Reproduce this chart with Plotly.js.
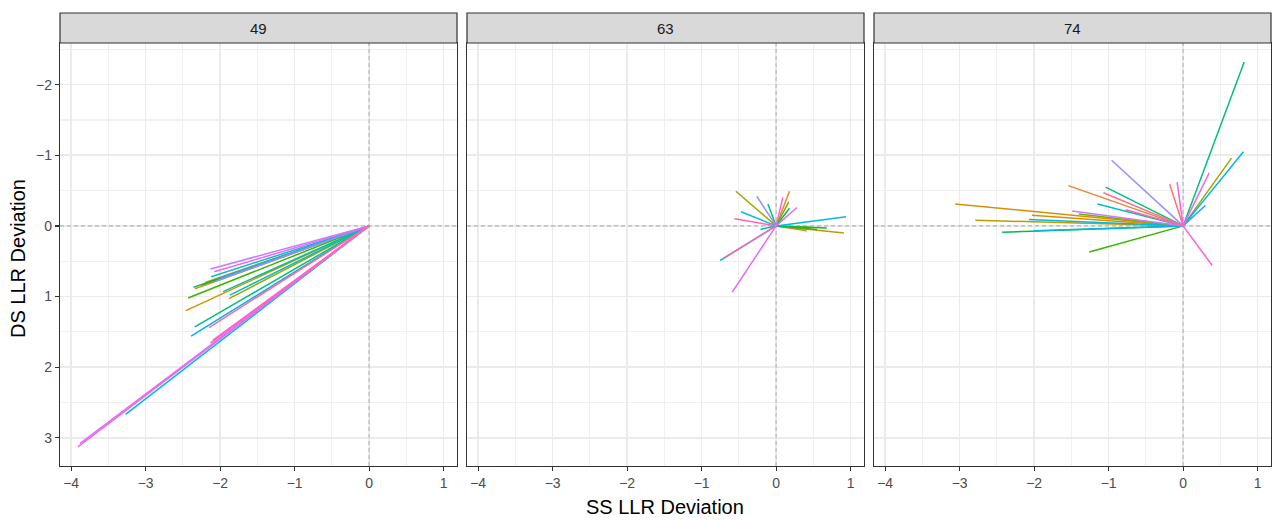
<!DOCTYPE html>
<html>
<head>
<meta charset="utf-8">
<script src="https://cdn.plot.ly/plotly-3.0.1.min.js"></script>
<style>
html,body{margin:0;padding:0;background:#fff;}
#chart{width:1273px;height:520px;}
</style>
</head>
<body>
<div id="chart"></div>
<script>
// ---- data ----
var panels = ["49", "63", "74"];
var palette = ["#F8766D","#EA8331","#D89000","#C09B00","#A3A500","#7CAE00","#39B600","#00BB4E","#00BF7D","#00C1A3",
               "#00BFC4","#00BAE0","#00B0F6","#35A2FF","#9590FF","#C77CFF","#E76BF3","#FA62DB","#FF62BC","#FF6C91"];

// panel 49: SS and DS deviation end points, colour group
var ss49  = [-2.27, -2.34, -2.46, -2.20, -1.88, -2.25, -2.43, -2.36, -2.34, -1.96, -1.87, -2.12, -2.39, -2.00, -2.05, -2.13, -3.27, -2.08, -3.91, -3.88, -2.10, -2.13, -2.15];
var ds49  = [ 0.86,  0.89,  1.20,  0.80,  1.03,  0.84,  1.02,  0.87,  1.43,  0.93,  0.98,  0.72,  1.56,  0.74,  0.78,  0.61,  2.67,  0.65,  3.13,  3.08,  1.62,  1.66,  1.44];
var grp49 = [0, 1, 2, 3, 4, 5, 6, 7, 8, 9, 10, 11, 12, 13, 14, 15, 11, 16, 16, 16, 17, 18, 19];

// panel 63
var ss63  = [ 0.41,  0.18,  0.45,  0.91, -0.54,  0.17,  0.55,  0.18,  0.68, -0.11, -0.21,  0.94, -0.47, -0.75, -0.26,  0.28, -0.59,  0.09, -0.56, -0.71];
var ds63  = [ 0.07, -0.49,  0.02,  0.10, -0.49, -0.34,  0.05, -0.25,  0.03, -0.31,  0.05, -0.13, -0.20,  0.49, -0.42, -0.26,  0.94, -0.40, -0.10,  0.46];
var grp63 = [1, 1, 2, 3, 4, 5, 6, 7, 7, 8, 9, 11, 11, 11, 14, 16, 16, 17, 18, 18];

// panel 74
var ss74  = [-0.18, -1.54, -3.06, -2.03, -2.79,  0.65, -1.40, -1.26, -2.43,  0.82, -1.04, -1.15, -2.07, -2.00,  0.81,  0.30, -0.96, -1.49,  0.35,  0.39, -0.08, -0.77, -1.07];
var ds74  = [-0.59, -0.57, -0.31, -0.15, -0.08, -0.96, -0.17,  0.37,  0.09, -2.32, -0.55, -0.31, -0.09,  0.07, -1.05, -0.29, -0.93, -0.21, -0.75,  0.56, -0.62, -0.23, -0.47];
var grp74 = [0, 1, 2, 2, 3, 4, 5, 6, 7, 8, 8, 10, 11, 11, 12, 13, 14, 15, 16, 17, 17, 18, 19];

var xTicks = [-4, -3, -2, -1, 0, 1];
var yTicks = [-2, -1, 0, 1, 2, 3];
var refX = 0, refY = 0;           // dashed reference lines
var xRange = [-4.15, 1.18];
var yRange = [3.40, -2.59];       // reversed axis

// ---- build ----
var W = 1213, H = 423;
var domains = [[0, 397/W], [407/W, 804/W], [814/W, 1211/W]];
var sets = [[ss49, ds49, grp49], [ss63, ds63, grp63], [ss74, ds74, grp74]];
var traces = [];
var dashStyle = {color: '#B5B5B5', width: 1.1, dash: '4px,3px'};
sets.forEach(function(s, p) {
  var xa = p === 0 ? 'x' : 'x' + (p + 1);
  var ya = p === 0 ? 'y' : 'y' + (p + 1);
  traces.push({type: 'scatter', mode: 'lines', x: [refX, refX], y: yRange, xaxis: xa, yaxis: ya,
               line: dashStyle, hoverinfo: 'skip', showlegend: false, cliponaxis: true});
  traces.push({type: 'scatter', mode: 'lines', x: xRange, y: [refY, refY], xaxis: xa, yaxis: ya,
               line: dashStyle, hoverinfo: 'skip', showlegend: false, cliponaxis: true});
  for (var i = 0; i < s[0].length; i++) {
    traces.push({
      type: 'scatter', mode: 'lines',
      x: [0, s[0][i]], y: [0, s[1][i]],
      xaxis: xa, yaxis: ya,
      line: {color: palette[s[2][i]], width: 1.5},
      hoverinfo: 'skip', showlegend: false
    });
  }
});

var tickFont = {family: 'Liberation Sans, Arial, sans-serif', size: 14, color: '#4D4D4D'};
function fmt(v){return v < 0 ? '\u2212' + (-v) : String(v);}
function xAxis(p) {
  return {
    domain: domains[p], range: xRange.slice(), anchor: p === 0 ? 'y' : 'y' + (p + 1),
    tickvals: xTicks, ticktext: xTicks.map(fmt),
    ticks: 'outside', ticklen: 4, tickcolor: '#333333', tickwidth: 1.2,
    showgrid: true, gridcolor: '#EBEBEB', gridwidth: 1.6,
    minor: {dtick: 0.5, tick0: 0, showgrid: true, gridcolor: '#F0F0F0', gridwidth: 1.1, ticks: ''},
    zeroline: false, showline: true, mirror: true, linecolor: '#333333', linewidth: 1.2,
    tickfont: tickFont, fixedrange: true
  };
}
function yAxis(p) {
  return {
    domain: [0, 1], range: yRange.slice(), anchor: p === 0 ? 'x' : 'x' + (p + 1),
    tickvals: yTicks, ticktext: yTicks.map(fmt),
    ticks: p === 0 ? 'outside' : '', ticklen: 4, tickcolor: '#333333', tickwidth: 1.2,
    showticklabels: p === 0,
    showgrid: true, gridcolor: '#EBEBEB', gridwidth: 1.6,
    minor: {dtick: 0.5, tick0: 0, showgrid: true, gridcolor: '#F0F0F0', gridwidth: 1.1, ticks: ''},
    zeroline: false, showline: true, mirror: true, linecolor: '#333333', linewidth: 1.2,
    tickfont: tickFont, fixedrange: true
  };
}

var shapes = [], annotations = [];
panels.forEach(function(name, p) {
  shapes.push({type: 'rect', xref: 'paper', yref: 'paper', x0: domains[p][0], x1: domains[p][1],
               y0: 1, y1: 1 + 30/H, fillcolor: '#D9D9D9', line: {color: '#333333', width: 1.2}});
  annotations.push({text: name, xref: 'paper', yref: 'paper', x: (domains[p][0] + domains[p][1]) / 2,
                    y: 1 + 15/H, xanchor: 'center', yanchor: 'middle', showarrow: false,
                    font: {family: 'Liberation Sans, Arial, sans-serif', size: 15, color: '#1A1A1A'}});
});
annotations.push({text: 'SS LLR Deviation', xref: 'paper', yref: 'paper', x: (665 - 60)/W, y: (466 - 507)/H,
                  xanchor: 'center', yanchor: 'middle', showarrow: false,
                  font: {family: 'Liberation Sans, Arial, sans-serif', size: 20, color: '#000000'}});
annotations.push({text: 'DS LLR Deviation', xref: 'paper', yref: 'paper', x: (18 - 60)/W, y: (466 - 259)/H,
                  xanchor: 'center', yanchor: 'middle', textangle: -90, showarrow: false,
                  font: {family: 'Liberation Sans, Arial, sans-serif', size: 20, color: '#000000'}});

var layout = {
  width: 1273, height: 520,
  margin: {l: 60, r: 0, t: 43, b: 54, pad: 0},
  paper_bgcolor: '#FFFFFF', plot_bgcolor: '#FFFFFF',
  showlegend: false,
  xaxis: xAxis(0), xaxis2: xAxis(1), xaxis3: xAxis(2),
  yaxis: yAxis(0), yaxis2: yAxis(1), yaxis3: yAxis(2),
  shapes: shapes, annotations: annotations
};

Plotly.newPlot('chart', traces, layout, {staticPlot: true, displayModeBar: false});
</script>
</body>
</html>
